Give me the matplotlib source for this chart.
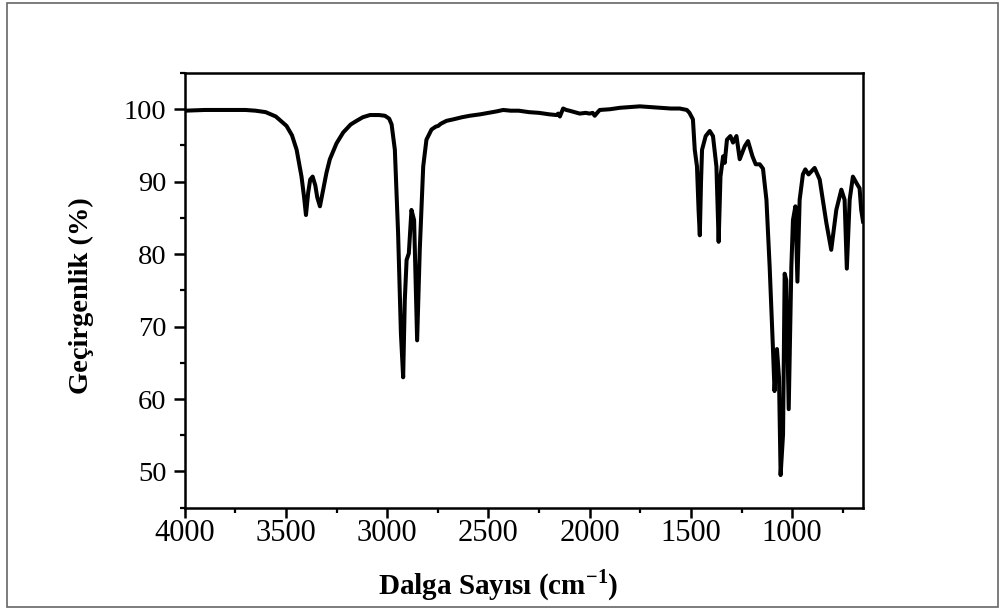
import matplotlib
matplotlib.use("Agg")
import matplotlib.pyplot as plt
from matplotlib.patches import Rectangle
from matplotlib.ticker import MultipleLocator

# FT-IR spectrum
wavenumber = [4000, 3900, 3800, 3700, 3650, 3600, 3550, 3497, 3470, 3447, 3423, 3410, 3401,
              3390, 3380, 3368, 3355, 3345, 3332, 3320, 3300, 3283, 3250, 3217, 3180, 3151,
              3120, 3085, 3040, 3011, 2990, 2978, 2962, 2946, 2932, 2921, 2913, 2904, 2893,
              2880, 2867, 2852, 2839, 2822, 2806, 2781, 2760, 2748, 2735, 2707, 2674, 2630,
              2592, 2540, 2500, 2460, 2427, 2390, 2350, 2300, 2250, 2200, 2165, 2155, 2147,
              2131, 2115, 2100, 2075, 2049, 2020, 2000, 1985, 1975, 1960, 1950, 1900, 1850,
              1800, 1752, 1700, 1650, 1600, 1555, 1520, 1507, 1490, 1481, 1470, 1462, 1456,
              1450, 1445, 1427, 1407, 1391, 1374, 1363, 1354, 1341, 1333, 1322, 1305, 1292,
              1275, 1259, 1234, 1218, 1196, 1180, 1160, 1144, 1127, 1111, 1095, 1087, 1075,
              1065, 1057, 1045, 1037, 1029, 1017, 1004, 996, 984, 974, 963, 947, 935, 919,
              889, 864, 831, 807, 782, 757, 741, 730, 716, 700, 678, 667, 659, 650]
transmittance = [99.8, 99.9, 99.9, 99.9, 99.8, 99.6, 99.0, 97.7, 96.4, 94.4, 90.7, 87.8, 85.4,
                 88.5, 90.3, 90.7, 89.5, 87.8, 86.6, 88.3, 91.2, 93.1, 95.3, 96.8, 97.9, 98.4,
                 98.9, 99.2, 99.2, 99.1, 98.7, 97.9, 94.4, 82.9, 69.0, 63.0, 73.6, 79.2, 80.1,
                 86.1, 84.7, 68.1, 80.6, 92.1, 95.8, 97.2, 97.6, 97.7, 98.0, 98.4, 98.6, 98.9,
                 99.1, 99.3, 99.5, 99.7, 99.9, 99.8, 99.8, 99.6, 99.5, 99.3, 99.2, 99.4, 99.0,
                 100.1, 99.9, 99.8, 99.6, 99.4, 99.5, 99.4, 99.5, 99.1, 99.6, 99.9, 100.0, 100.2,
                 100.3, 100.4, 100.3, 100.2, 100.1, 100.1, 99.9, 99.5, 98.6, 94.4, 92.1, 86.0, 82.6,
                 90.0, 94.4, 96.3, 97.0, 96.3, 92.1, 81.7, 90.7, 93.5, 92.6, 95.8, 96.3, 95.4,
                 96.3, 93.1, 94.9, 95.6, 93.5, 92.4, 92.4, 91.8, 87.5, 78.2, 67.1, 61.1, 66.9,
                 63.0, 49.5, 55.1, 77.3, 76.4, 58.6, 78.2, 84.7, 86.6, 76.2, 87.5, 91.0, 91.7, 91.0,
                 91.9, 90.3, 84.3, 80.6, 86.1, 88.9, 87.5, 78.0, 87.5, 90.7, 89.6, 89.1, 86.1, 84.5]

x_ticks = [4000, 3500, 3000, 2500, 2000, 1500, 1000]
y_ticks = [50, 60, 70, 80, 90, 100]
x_label = "Dalga Sayısı (cm$^{\\mathbf{-1}}$)"
y_label = "Geçirgenlik (%)"

plt.rcParams['font.family'] = ['Liberation Serif', 'DejaVu Serif']
plt.rcParams['mathtext.fontset'] = 'custom'
plt.rcParams['mathtext.rm'] = 'Liberation Serif'
plt.rcParams['mathtext.bf'] = 'Liberation Serif:bold'

fig = plt.figure(figsize=(10.02, 6.10), dpi=100)
fig.patches.append(Rectangle((7 / 1002, 3 / 610), 991 / 1002, 604 / 610, transform=fig.transFigure,
                             fill=False, edgecolor='#666666', linewidth=1.2))
ax = fig.add_axes([0.1843, 0.1677, 0.8613 - 0.1843, 0.8803 - 0.1677])

ax.plot(wavenumber, transmittance, color='black', linewidth=2.9, solid_joinstyle='round')

ax.set_xlim(4000, 650)
ax.set_ylim(45, 105)
ax.set_xticks(x_ticks)
ax.set_yticks(y_ticks)
ax.xaxis.set_minor_locator(MultipleLocator(250))
ax.yaxis.set_minor_locator(MultipleLocator(5))

for s in ax.spines.values():
    s.set_linewidth(1.8)
ax.tick_params(axis='both', which='major', direction='out', width=1.8,
               top=False, right=False)
ax.tick_params(axis='x', which='major', length=7, pad=1, labelsize=22)
ax.tick_params(axis='y', which='major', length=8, pad=5, labelsize=20.5)
ax.tick_params(axis='both', which='minor', direction='out', length=3.5, width=1.6,
               top=False, right=False)

ax.set_xlabel(x_label, fontsize=21, fontweight='bold')
ax.set_ylabel(y_label, fontsize=20.5, fontweight='bold')
ax.xaxis.set_label_coords(0.463, -0.137)
ax.yaxis.set_label_coords(-0.134, 0.487)

fig.savefig("out.png", dpi=100)
